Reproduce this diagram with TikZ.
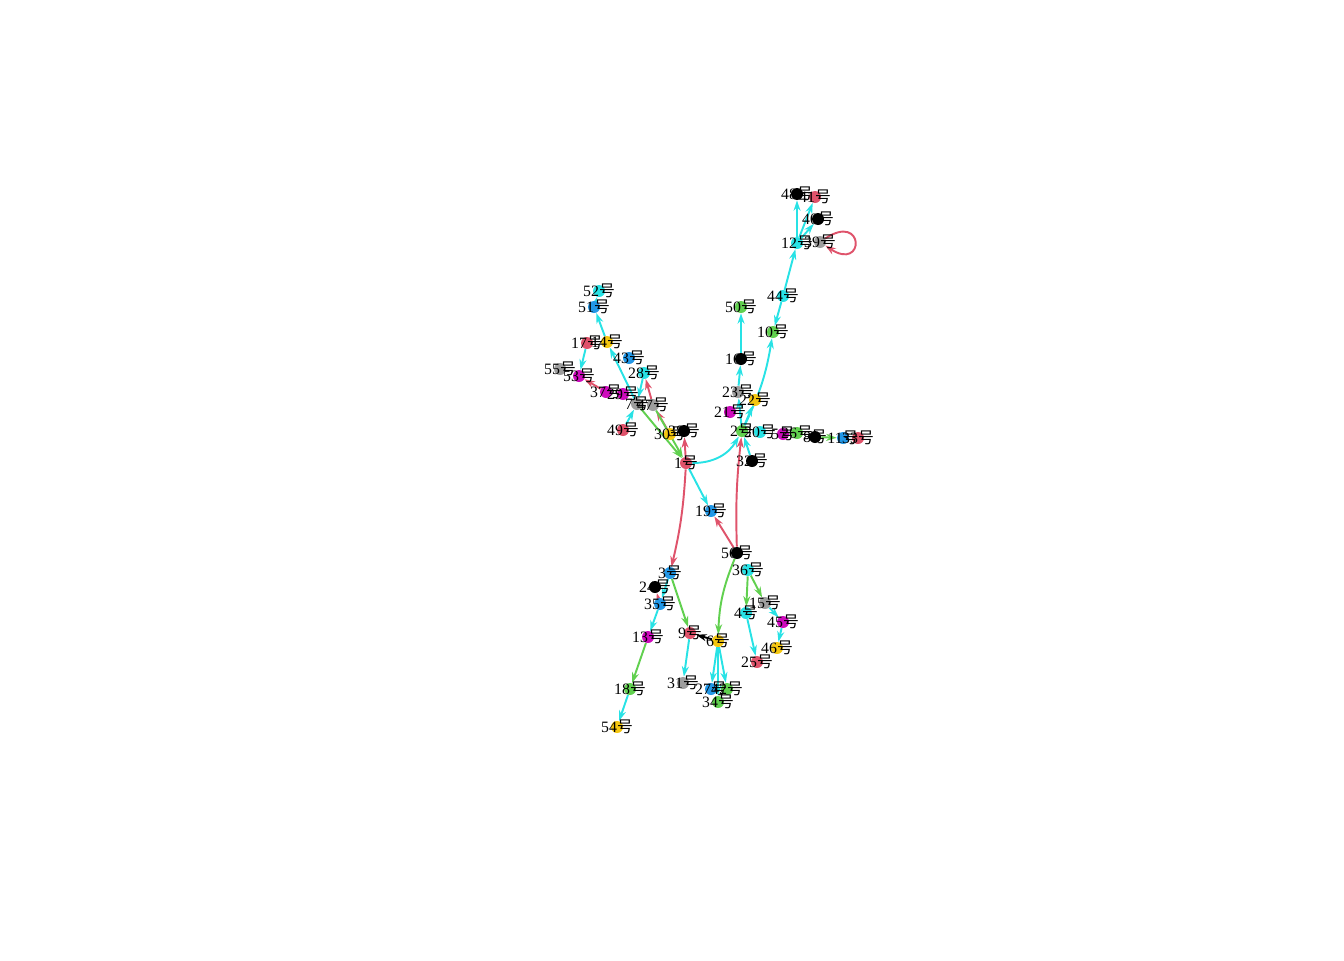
\documentclass[tikz,border=0pt]{standalone}
\usepackage{fontspec}
\setmainfont{Liberation Serif}
\newfontfamily\cjk{Noto Sans CJK SC}
\usetikzlibrary{arrows.meta,backgrounds}
\definecolor{cblack}{HTML}{000000}
\definecolor{cred}{HTML}{DF536B}
\definecolor{cgreen}{HTML}{61D04F}
\definecolor{cblue}{HTML}{2297E6}
\definecolor{ccyan}{HTML}{28E2E5}
\definecolor{cmag}{HTML}{CD0BBC}
\definecolor{cyel}{HTML}{F5C710}
\definecolor{cgray}{HTML}{9E9E9E}
\newcommand{\hao}{{\cjk 号}}
\begin{document}
\begin{tikzpicture}[x=0.02cm,y=-0.02cm,
    vx/.style={circle,inner sep=0pt,minimum size=12*0.02cm},
    lab/.style={inner sep=0pt,font=\fontsize{9}{10}\selectfont},
    ed/.style={line width=1.1pt,-{Stealth[length=6pt,width=4pt]}}]
    \useasboundingbox (0,0) rectangle (1344,960);

    % vertices
    \node[vx,fill=cred] (v1) at (686,463) {};
    \node[vx,fill=cgreen] (v2) at (742,431) {};
    \node[vx,fill=cblue] (v3) at (670,573) {};
    \node[vx,fill=ccyan] (v4) at (746,613) {};
    \node[vx,fill=cmag] (v5) at (783,434) {};
    \node[vx,fill=cyel] (v6) at (718,641) {};
    \node[vx,fill=cgray] (v7) at (637,404) {};
    \node[vx,fill=cblack] (v8) at (815,437) {};
    \node[vx,fill=cred] (v9) at (690,633) {};
    \node[vx,fill=cgreen] (v10) at (773,332) {};
    \node[vx,fill=cblue] (v11) at (843,438) {};
    \node[vx,fill=ccyan] (v12) at (797,243) {};
    \node[vx,fill=cmag] (v13) at (648,637) {};
    \node[vx,fill=cyel] (v14) at (607,342) {};
    \node[vx,fill=cgray] (v15) at (765,603) {};
    \node[vx,fill=cblack] (v16) at (741,359) {};
    \node[vx,fill=cred] (v17) at (587,343) {};
    \node[vx,fill=cgreen] (v18) at (630,689) {};
    \node[vx,fill=cblue] (v19) at (711,511) {};
    \node[vx,fill=ccyan] (v20) at (760,432) {};
    \node[vx,fill=cmag] (v21) at (730,412) {};
    \node[vx,fill=cyel] (v22) at (755,400) {};
    \node[vx,fill=cgray] (v23) at (738,392) {};
    \node[vx,fill=cblack] (v24) at (655,587) {};
    \node[vx,fill=cred] (v25) at (757,662) {};
    \node[vx,fill=cgreen] (v26) at (797,433) {};
    \node[vx,fill=cblue] (v27) at (711,689) {};
    \node[vx,fill=ccyan] (v28) at (644,373) {};
    \node[vx,fill=cmag] (v29) at (623,394) {};
    \node[vx,fill=cyel] (v30) at (670,434) {};
    \node[vx,fill=cgray] (v31) at (683,683) {};
    \node[vx,fill=cblack] (v32) at (752,461) {};
    \node[vx,fill=cred] (v33) at (858,438) {};
    \node[vx,fill=cgreen] (v34) at (718,702) {};
    \node[vx,fill=cblue] (v35) at (660,604) {};
    \node[vx,fill=ccyan] (v36) at (748,570) {};
    \node[vx,fill=cmag] (v37) at (606,392) {};
    \node[vx,fill=cblack] (v38) at (684,431) {};
    \node[vx,fill=cgray] (v39) at (820,242) {};
    \node[vx,fill=cblack] (v40) at (818,219) {};
    \node[vx,fill=cred] (v41) at (815,197) {};
    \node[vx,fill=cgreen] (v42) at (727,689) {};
    \node[vx,fill=cblue] (v43) at (629,358) {};
    \node[vx,fill=ccyan] (v44) at (783,296) {};
    \node[vx,fill=cmag] (v45) at (783,622) {};
    \node[vx,fill=cyel] (v46) at (777,648) {};
    \node[vx,fill=cgray] (v47) at (653,405) {};
    \node[vx,fill=cblack] (v48) at (797,194) {};
    \node[vx,fill=cred] (v49) at (623,430) {};
    \node[vx,fill=cgreen] (v50) at (741,307) {};
    \node[vx,fill=cblue] (v51) at (594,307) {};
    \node[vx,fill=ccyan] (v52) at (599,291) {};
    \node[vx,fill=cmag] (v53) at (579,376) {};
    \node[vx,fill=cyel] (v54) at (617,727) {};
    \node[vx,fill=cgray] (v55) at (560,369) {};
    \node[vx,fill=cblack] (v56) at (737,553) {};

    % edges
    \begin{scope}[on background layer]
        \draw[ed,ccyan] (v12) -- (v48);
        \draw[ed,ccyan] (v12) -- (v41);
        \draw[ed,ccyan] (v12) -- (v40);
        \draw[ed,ccyan] (v44) -- (v12);
        \draw[ed,ccyan] (v44) -- (v10);
        \draw[ed,ccyan] (v2) to[bend right=8] (v10);
        \draw[ed,ccyan] (v16) -- (v50);
        \draw[ed,ccyan] (v23) -- (v16);
        \draw[ed,ccyan] (v2) -- (v23);
        \draw[ed,ccyan] (v2) -- (v22);
        \draw[ed,ccyan] (v1) to[bend right=30] (v2);
        \draw[ed,ccyan] (v32) -- (v2);
        \draw[ed,ccyan] (v1) -- (v19);
        \draw[ed,ccyan] (v3) -- (v35);
        \draw[ed,ccyan] (v35) -- (v13);
        \draw[ed,ccyan] (v18) -- (v54);
        \draw[ed,ccyan] (v9) -- (v31);
        \draw[ed,ccyan] (v6) -- (v27);
        \draw[ed,ccyan] (v6) -- (v34);
        \draw[ed,ccyan] (v6) -- (v42);
        \draw[ed,ccyan] (v4) -- (v25);
        \draw[ed,ccyan] (v15) -- (v45);
        \draw[ed,ccyan] (v45) -- (v46);
        \draw[ed,ccyan] (v14) -- (v51);
        \draw[ed,ccyan] (v51) -- (v52);
        \draw[ed,ccyan] (v17) -- (v53);
        \draw[ed,ccyan] (v7) -- (v14);
        \draw[ed,ccyan] (v28) -- (v7);
        \draw[ed,ccyan] (v49) -- (v7);
        \draw[ed,cred] (v56) to[bend left=4] (v2);
        \draw[ed,cred] (v56) -- (v19);
        \draw[ed,cred] (v1) to[bend left=5] (v3);
        \draw[ed,cred] (v35) -- (v24);
        \draw[ed,cred] (v37) -- (v53);
        \draw[ed,cred] (v47) -- (v28);
        \draw[ed,cred] (v30) -- (v47);
        \draw[ed,cred] (v1) -- (v38);
        \draw[ed,cred] (v39) .. controls +(45,-30) and +(45,30) .. (v39);
        \draw[ed,cgreen] (v36) -- (v4);
        \draw[ed,cgreen] (v36) -- (v15);
        \draw[ed,cgreen] (v56) to[bend right=10] (v6);
        \draw[ed,cgreen] (v3) -- (v9);
        \draw[ed,cgreen] (v13) -- (v18);
        \draw[ed,cgreen] (v7) -- (v1);
        \draw[ed,cgreen] (v47) -- (v1);
        \draw[ed,cgreen] (v8) -- (v11);
        \draw[ed,cblack] (v6) -- (v9);
    \end{scope}

    % labels
    \foreach \i in {1,...,56}{
        \node[lab] at (v\i) {\i\hao};
    }
\end{tikzpicture}
\end{document}
